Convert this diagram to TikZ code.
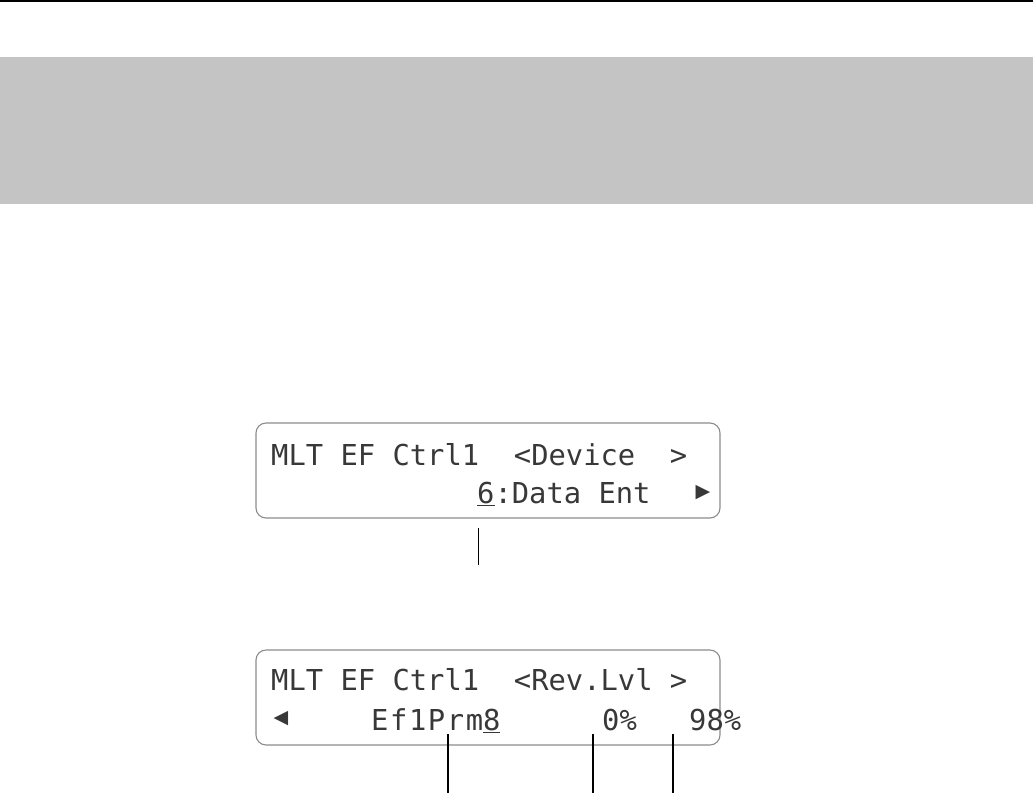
\documentclass[tikz,border=0pt]{standalone}
\usepackage{fontspec}
\newfontfamily\lcdfont{DejaVu Sans Mono}
\newfontfamily\symfont{DejaVu Sans}
\begin{document}
\begin{tikzpicture}[x=1pt,y=-1pt,
  lcdbox/.style={draw=black!45,line width=1.1pt,rounded corners=10pt},
  lcdtext/.style={anchor=base west,inner sep=0pt,text=black!78,font=\lcdfont\fontsize{28.8}{30}\selectfont},
  lcdsym/.style={anchor=center,inner sep=0pt,text=black!78,font=\symfont\fontsize{19}{20}\selectfont},
  callout/.style={draw=black,line width=1.2pt}]
\useasboundingbox (0,0) rectangle (1033,793);
% header rule and grey band
\draw[line width=1.5pt] (0,0.8) -- (1033,0.8);
\fill[black!23] (0,57) rectangle (1033,204);
% LCD 1
\draw[lcdbox] (256,423) rectangle (720,518);
\node[lcdtext] (a1) at (271,465) {MLT EF Ctrl1~~<Device~~>};
\node[lcdtext] (a2) at (477,503) {\underline{6}:Data Ent};
\node[lcdsym] (a3) at (703,493) {▶};
\coordinate (c1t) at (478.7,528);
\coordinate (c1b) at (478.7,565);
\draw[callout] (c1t) -- (c1b);
% LCD 2
\draw[lcdbox] (256,650) rectangle (720,745);
\node[lcdtext] (b1) at (271,690) {MLT EF Ctrl1~~<Rev.Lvl~>};
\node[lcdsym] (b2) at (281,719) {◀};
\node[lcdtext] (b3) at (371,730) {\addfontfeature{LetterSpace=5.5}Ef1Prm\underline{8}};
\node[lcdtext] (b4) at (602,730) {0\%};
\node[lcdtext] (b5) at (689,730) {98\%};
\coordinate (d1t) at (448,734);
\coordinate (d1b) at (448,793);
\coordinate (d2t) at (593,734);
\coordinate (d2b) at (593,793);
\coordinate (d3t) at (673,734);
\coordinate (d3b) at (673,793);
\draw[callout] (d1t) -- (d1b);
\draw[callout] (d2t) -- (d2b);
\draw[callout] (d3t) -- (d3b);
\end{tikzpicture}
\end{document}
